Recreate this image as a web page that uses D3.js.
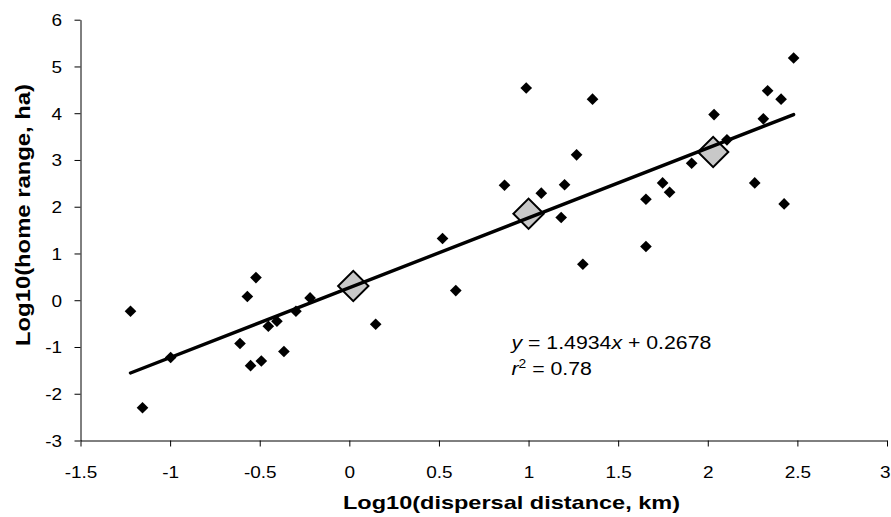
<!DOCTYPE html>
<html>
<head>
<meta charset="utf-8">
<script src="https://cdn.jsdelivr.net/npm/d3@7"></script>
<style>
  body { margin: 0; background: #fff; }
  svg { display: block; font-family: "Liberation Sans", Arial, Helvetica, sans-serif; }
</style>
</head>
<body>
<div id="main"></div>
<script>
// observed species: log10 dispersal distance (km) vs log10 home range (ha)
const distX = [-1.221, -1.154, -0.997, -0.610, -0.569, -0.551, -0.521, -0.491, -0.452, -0.404,
               -0.365, -0.298, -0.219, 0.147, 0.520, 0.594, 0.866, 0.987, 1.071, 1.182,
               1.201, 1.268, 1.303, 1.357, 1.655, 1.655, 1.748, 1.787, 1.910, 2.035,
               2.107, 2.262, 2.310, 2.334, 2.409, 2.426, 2.479];
const rangeY = [-0.235, -2.30, -1.225, -0.926, 0.079, -1.40, 0.485, -1.30, -0.556, -0.449,
                -1.097, -0.235, 0.05, -0.513, 1.32, 0.207, 2.46, 4.54, 2.29, 1.77,
                2.47, 3.11, 0.769, 4.30, 2.16, 1.15, 2.51, 2.31, 2.93, 3.97,
                3.43, 2.51, 3.88, 4.48, 4.30, 2.06, 5.18];

// group means (big grey diamonds)
const meanX = [0.022, 1.0, 2.03];
const meanY = [0.305, 1.85, 3.17];

// fitted line
const slope = 1.4934, intercept = 0.2678, r2 = 0.78;

const xTicks = [-1.5, -1, -0.5, 0, 0.5, 1, 1.5, 2, 2.5, 3];
const yTicks = [-3, -2, -1, 0, 1, 2, 3, 4, 5, 6];

const W = 891, H = 517;
const plot = { left: 80.5, right: 887, top: 19.7, bottom: 440.5 };
const SX = 1.15; // the original lettering is a bit wider than Liberation Sans

const svg = d3.select("#main").append("svg").attr("width", W).attr("height", H);

const x = d3.scaleLinear().domain([-1.5, 3]).range([plot.left, plot.right]);
const y = d3.scaleLinear().domain([-3, 6]).range([plot.bottom, plot.top]);

// axes
const xAxis = d3.axisBottom(x).tickValues(xTicks).tickFormat(d => String(d))
    .tickSize(6).tickSizeOuter(0).tickPadding(19.5);
const yAxis = d3.axisLeft(y).tickValues(yTicks).tickFormat(d => String(d))
    .tickSize(6).tickSizeOuter(0).tickPadding(12.5);

const gx = svg.append("g").attr("transform", `translate(0,${plot.bottom})`).call(xAxis);
const gy = svg.append("g").attr("transform", `translate(${plot.left},0)`).call(yAxis);
[gx, gy].forEach(g => {
    g.attr("font-family", null).attr("font-size", 16.5);
    g.selectAll("line, path").attr("stroke", "#000");
    g.selectAll("text").attr("fill", "#000");
});
gx.selectAll("text").attr("transform", `scale(${SX},1)`);
// last label sits on the window edge; keep it inside
gx.selectAll("text").filter(d => d === 3)
    .attr("text-anchor", "end").attr("x", 3 / SX);
gy.selectAll("text")
    .attr("x", -(6 + 12.5) / SX)
    .attr("dy", "0.36em")
    .attr("transform", `scale(${SX},1)`);

// axis titles
svg.append("text")
    .attr("x", 511.5).attr("y", 508.5)
    .attr("text-anchor", "middle")
    .attr("font-size", 19).attr("font-weight", "bold")
    .attr("textLength", 337).attr("lengthAdjust", "spacingAndGlyphs")
    .text("Log10(dispersal distance, km)");

svg.append("text")
    .attr("transform", "translate(30,215) rotate(-90)")
    .attr("text-anchor", "middle")
    .attr("font-size", 20).attr("font-weight", "bold")
    .attr("textLength", 262).attr("lengthAdjust", "spacingAndGlyphs")
    .text("Log10(home range, ha)");

const diamond = (area) => d3.symbol().type(d3.symbolSquare).size(area)();

// group means
svg.append("g").selectAll("path")
    .data(d3.zip(meanX, meanY))
    .join("path")
    .attr("d", diamond(460))
    .attr("transform", d => `translate(${x(d[0])},${y(d[1])}) rotate(45)`)
    .attr("fill", "#c8c8c8")
    .attr("stroke", "#000")
    .attr("stroke-width", 2);

// points
svg.append("g").selectAll("path")
    .data(d3.zip(distX, rangeY))
    .join("path")
    .attr("d", diamond(68))
    .attr("transform", d => `translate(${x(d[0])},${y(d[1])}) rotate(45)`)
    .attr("fill", "#000");

// trend line across data extent
const ext = d3.extent(distX);
svg.append("line")
    .attr("x1", x(ext[0])).attr("y1", y(slope * ext[0] + intercept))
    .attr("x2", x(ext[1])).attr("y2", y(slope * ext[1] + intercept))
    .attr("stroke", "#000").attr("stroke-width", 3.4).attr("stroke-linecap", "round");

// equation
const eq = svg.append("text")
    .attr("transform", `translate(511.5,348.5) scale(${SX},1)`)
    .attr("font-size", 18.5);
eq.append("tspan").attr("font-style", "italic").text("y");
eq.append("tspan").text(` = ${slope}`);
eq.append("tspan").attr("font-style", "italic").text("x");
eq.append("tspan").text(` + ${intercept}`);

const rt = svg.append("text")
    .attr("transform", `translate(511.5,375) scale(${SX},1)`)
    .attr("font-size", 18.5);
rt.append("tspan").attr("font-style", "italic").text("r");
rt.append("tspan").attr("font-size", 12).attr("dy", -7).text("2");
rt.append("tspan").attr("dy", 7).text(` = ${r2}`);
</script>
</body>
</html>
